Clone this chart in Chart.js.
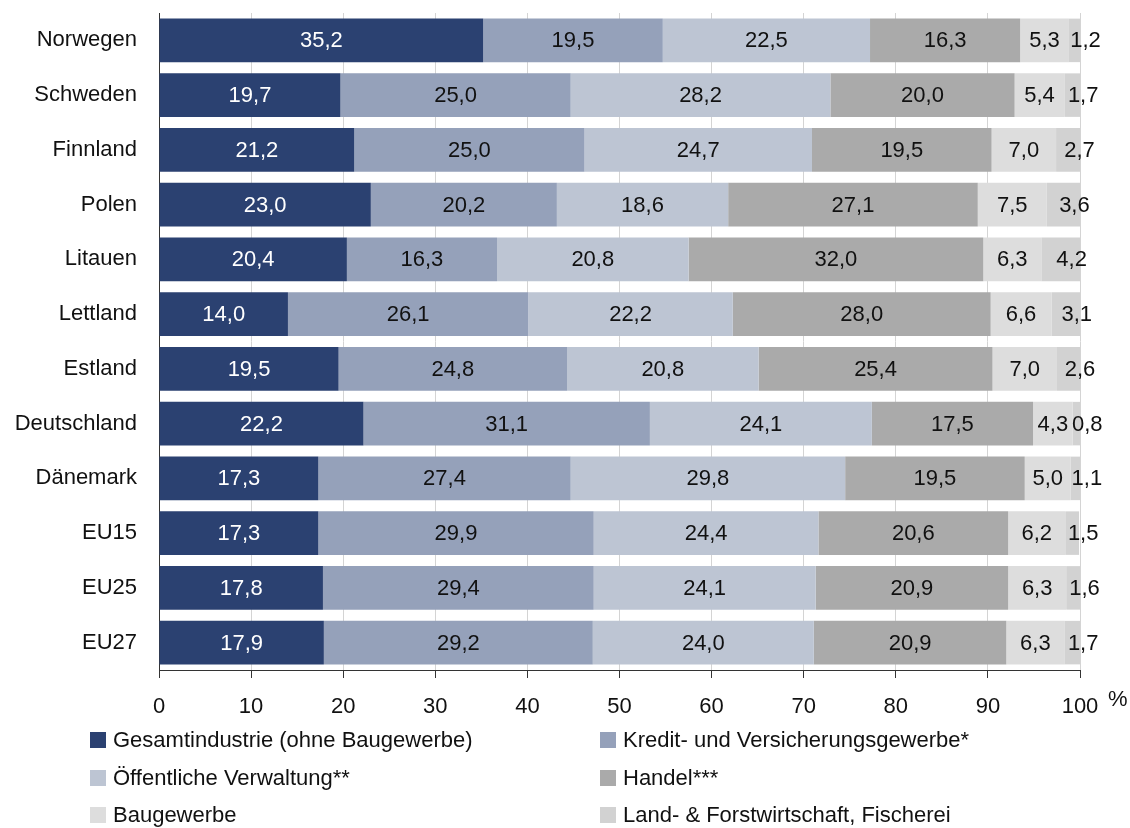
<!DOCTYPE html>
<html>
<head>
<meta charset="utf-8">
<script src="https://cdn.jsdelivr.net/npm/chart.js@4/dist/chart.umd.min.js"></script>
<style>
  body { margin: 0; background: #fff; }
  #wrap { position: relative; width: 1130px; height: 828px; }
  #legende {
    position: absolute; left: 0; top: 727px; width: 1130px;
    font-family: "Liberation Sans", Arial, sans-serif; font-size: 22px; color: #111;
  }
  .eintrag { position: absolute; height: 26px; line-height: 26px; white-space: nowrap; }
  .eintrag span.box { position: absolute; left: 0; top: 5px; width: 16px; height: 16px; }
  .eintrag span.txt { position: absolute; left: 23px; top: 0; }
</style>
</head>
<body>
<div id="wrap">
  <canvas id="chart" width="1130" height="828"></canvas>
  <div id="legende"></div>
</div>
<script>
// Länder / Regionen
const laender = ['Norwegen', 'Schweden', 'Finnland', 'Polen', 'Litauen', 'Lettland',
    'Estland', 'Deutschland', 'Dänemark', 'EU15', 'EU25', 'EU27'];

// Sektoren (Reihenfolge wie Legende)
const sektoren = [
    'Gesamtindustrie (ohne Baugewerbe)',
    'Kredit- und Versicherungsgewerbe*',
    'Öffentliche Verwaltung**',
    'Handel***',
    'Baugewerbe',
    'Land- & Forstwirtschaft, Fischerei'
];

const farben = ['#2B4171', '#95A1BA', '#BDC5D3', '#AAAAAA', '#DDDDDD', '#D2D2D2'];

// Anteile in %
const industrie   = [35.2, 19.7, 21.2, 23.0, 20.4, 14.0, 19.5, 22.2, 17.3, 17.3, 17.8, 17.9];
const kredit      = [19.5, 25.0, 25.0, 20.2, 16.3, 26.1, 24.8, 31.1, 27.4, 29.9, 29.4, 29.2];
const verwaltung  = [22.5, 28.2, 24.7, 18.6, 20.8, 22.2, 20.8, 24.1, 29.8, 24.4, 24.1, 24.0];
const handel      = [16.3, 20.0, 19.5, 27.1, 32.0, 28.0, 25.4, 17.5, 19.5, 20.6, 20.9, 20.9];
const baugewerbe  = [5.3, 5.4, 7.0, 7.5, 6.3, 6.6, 7.0, 4.3, 5.0, 6.2, 6.3, 6.3];
const landwirt    = [1.2, 1.7, 2.7, 3.6, 4.2, 3.1, 2.6, 0.8, 1.1, 1.5, 1.6, 1.7];

const xTicks = [0, 10, 20, 30, 40, 50, 60, 70, 80, 90, 100];

const reihen = [industrie, kredit, verwaltung, handel, baugewerbe, landwirt];
const schrift = '"Liberation Sans", Arial, sans-serif';

// Werte in die Balken schreiben
const wertePlugin = {
    id: 'werte',
    afterDatasetsDraw(chart) {
        const ctx = chart.ctx;
        ctx.save();
        ctx.font = '22px ' + schrift;
        ctx.textAlign = 'center';
        ctx.textBaseline = 'middle';
        chart.data.datasets.forEach((ds, i) => {
            const meta = chart.getDatasetMeta(i);
            meta.data.forEach((bar, j) => {
                const txt = ds.data[j].toFixed(1).replace('.', ',');
                let x = (bar.x + bar.base) / 2;
                if (i === reihen.length - 1) x += 11;
                ctx.fillStyle = i === 0 ? '#ffffff' : '#111111';
                ctx.fillText(txt, x, bar.y + 1);
            });
        });
        // Prozentzeichen hinter der 100
        const sx = chart.scales.x;
        ctx.textAlign = 'left';
        ctx.fillStyle = '#111111';
        ctx.fillText('%', sx.right + 28, sx.top + 30);
        ctx.restore();
    }
};

function baueLegende() {
    const leg = document.getElementById('legende');
    sektoren.forEach((name, i) => {
        const spalte = i % 2;
        const zeile = Math.floor(i / 2);
        const div = document.createElement('div');
        div.className = 'eintrag';
        div.style.left = (spalte === 0 ? 90 : 600) + 'px';
        div.style.top = (zeile * 37.5) + 'px';
        div.innerHTML = '<span class="box" style="background:' + farben[i] + '"></span>' +
            '<span class="txt">' + name + '</span>';
        leg.appendChild(div);
    });
}

function zeichneDiagramm() {
    const ctx = document.getElementById('chart').getContext('2d');
    new Chart(ctx, {
        type: 'bar',
        data: {
            labels: laender,
            datasets: sektoren.map((name, i) => ({
                label: name,
                data: reihen[i],
                backgroundColor: farben[i],
                borderWidth: 0,
                categoryPercentage: 1.0,
                barPercentage: 0.795
            }))
        },
        options: {
            indexAxis: 'y',
            responsive: false,
            animation: false,
            layout: { padding: { left: 0, right: 50, top: 13, bottom: 108 } },
            plugins: {
                legend: { display: false },
                tooltip: { enabled: false }
            },
            scales: {
                x: {
                    stacked: true,
                    min: 0,
                    max: 100,
                    afterBuildTicks: (scale) => { scale.ticks = xTicks.map(v => ({ value: v })); },
                    afterFit: (scale) => { scale.height = 50; },
                    grid: { color: '#D4D4D4', tickColor: '#333333', tickLength: 8, lineWidth: 1 },
                    border: { color: '#333333', width: 1 },
                    ticks: {
                        color: '#111111',
                        padding: 16,
                        font: { family: schrift, size: 22 }
                    }
                },
                y: {
                    stacked: true,
                    afterFit: (scale) => {
                        scale.width = 159;
                        scale.paddingTop = 0;
                        scale.paddingBottom = 0;
                    },
                    grid: { color: 'rgba(0,0,0,0)', drawTicks: false, drawOnChartArea: false },
                    border: { color: '#333333', width: 1 },
                    ticks: {
                        color: '#111111',
                        padding: 22,
                        font: { family: schrift, size: 22 }
                    }
                }
            }
        },
        plugins: [wertePlugin]
    });
}

baueLegende();
zeichneDiagramm();
</script>
</body>
</html>
